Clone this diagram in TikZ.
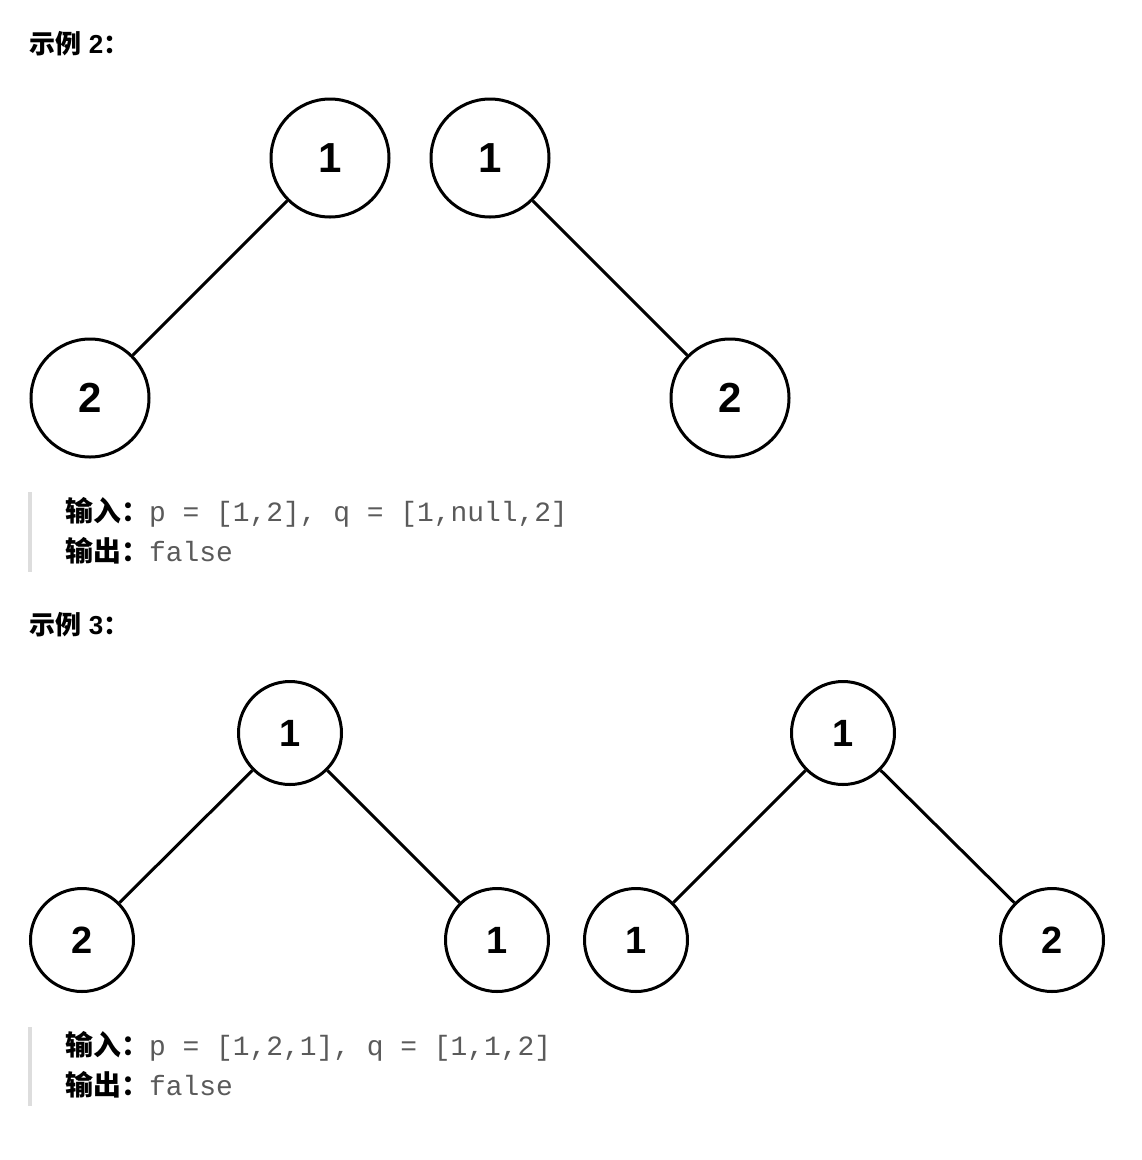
\documentclass[tikz,border=0pt]{standalone}
\usepackage{fontspec}
\setmainfont{Liberation Sans}
\newfontfamily\cjk{Noto Sans CJK SC}
\setmonofont{Liberation Mono}
\definecolor{codegray}{RGB}{90,90,90}
\definecolor{bargray}{RGB}{221,221,221}
\begin{document}
\begin{tikzpicture}[x=1pt,y=-1pt,
  bigc/.style={circle,draw,line width=3pt,minimum size=118pt,inner sep=0pt,font=\fontsize{42}{42}\selectfont\bfseries},
  smallc/.style={circle,draw,line width=3pt,minimum size=103pt,inner sep=0pt,font=\fontsize{38}{38}\selectfont\bfseries},
  edge/.style={line width=3pt},
  head/.style={anchor=west,font=\fontsize{26}{26}\selectfont\bfseries},
  code/.style={anchor=west,font=\fontsize{27.9}{28}\selectfont},
  bar/.style={line width=4pt,draw=bargray}]
\useasboundingbox[fill=white] (0,0) rectangle (1142,1160);
% Example 2
\node[head] (h2) at (26,44) {{\cjk 示例} 2{\cjk ：}};
\node[bigc] (a1) at (330,158) {1};
\node[bigc] (a2) at (90,398) {2};
\node[bigc] (b1) at (490,158) {1};
\node[bigc] (b2) at (730,398) {2};
\draw[edge] (a1) -- (a2);
\draw[edge] (b1) -- (b2);
\coordinate (q2t) at (30,492); \coordinate (q2b) at (30,572);
\draw[bar] (q2t) -- (q2b);
\node[code] (i2) at (62,512) {{\cjk\bfseries 输入：}\texttt{\color{codegray}p = [1,2], q = [1,null,2]}};
\node[code] (o2) at (62,551) {{\cjk\bfseries 输出：}\texttt{\color{codegray}false}};
% Example 3
\node[head] (h3) at (26,625) {{\cjk 示例} 3{\cjk ：}};
\node[smallc] (c1) at (290,733) {1};
\node[smallc] (c2) at (82,940) {2};
\node[smallc] (c3) at (497,940) {1};
\node[smallc] (d1) at (843,733) {1};
\node[smallc] (d2) at (636,940) {1};
\node[smallc] (d3) at (1052,940) {2};
\draw[edge] (c1) -- (c2); \draw[edge] (c1) -- (c3);
\draw[edge] (d1) -- (d2); \draw[edge] (d1) -- (d3);
\coordinate (q3t) at (30,1027); \coordinate (q3b) at (30,1106);
\draw[bar] (q3t) -- (q3b);
\node[code] (i3) at (62,1046) {{\cjk\bfseries 输入：}\texttt{\color{codegray}p = [1,2,1], q = [1,1,2]}};
\node[code] (o3) at (62,1085) {{\cjk\bfseries 输出：}\texttt{\color{codegray}false}};
\end{tikzpicture}
\end{document}
